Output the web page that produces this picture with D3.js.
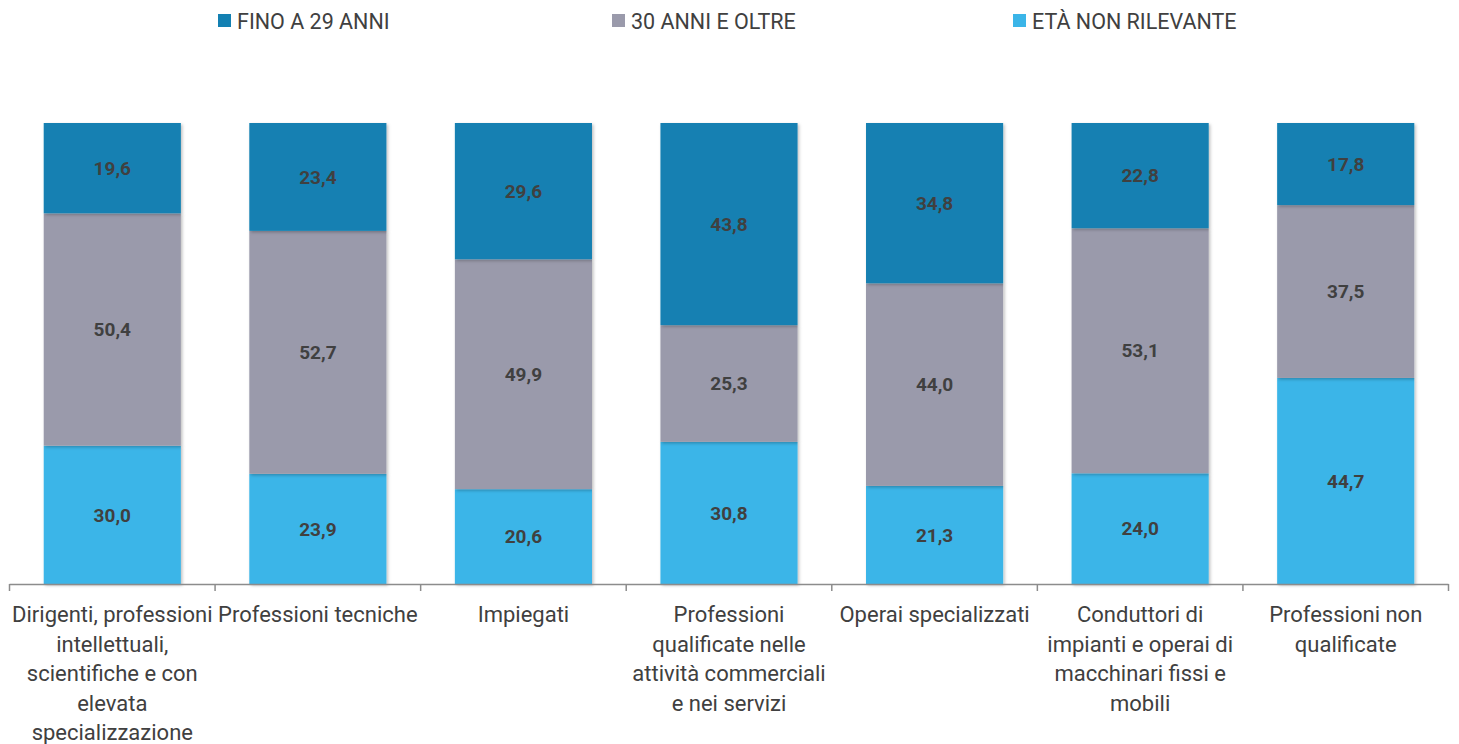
<!DOCTYPE html>
<html>
<head>
<meta charset="utf-8">
<script src="https://cdn.jsdelivr.net/npm/d3@7"></script>
<style>
  body { margin: 0; background: #fff; }
  svg { display: block; }
  text { font-family: Roboto, "Open Sans", sans-serif; fill: #404040; }
</style>
</head>
<body>
<div id="grafico"></div>
<script>
// dimensioni della pagina
var largeurSvg = 1459, hauteurSvg = 744;

// categorie (a capo come nel grafico)
var categorie = [
  "Dirigenti, professioni\nintellettuali,\nscientifiche e con\nelevata\nspecializzazione",
  "Professioni tecniche",
  "Impiegati",
  "Professioni\nqualificate nelle\nattività commerciali\ne nei servizi",
  "Operai specializzati",
  "Conduttori di\nimpianti e operai di\nmacchinari fissi e\nmobili",
  "Professioni non\nqualificate"
];

// serie
var serie = ["ETÀ NON RILEVANTE", "30 ANNI E OLTRE", "FINO A 29 ANNI"];
var fino29   = [19.6, 23.4, 29.6, 43.8, 34.8, 22.8, 17.8];
var oltre30  = [50.4, 52.7, 49.9, 25.3, 44.0, 53.1, 37.5];
var nonRilev = [30.0, 23.9, 20.6, 30.8, 21.3, 24.0, 44.7];

// ordine della legenda
var legenda = ["FINO A 29 ANNI", "30 ANNI E OLTRE", "ETÀ NON RILEVANTE"];

var colori = {
  "FINO A 29 ANNI": "#1380b2",
  "30 ANNI E OLTRE": "#9a9aab",
  "ETÀ NON RILEVANTE": "#3bb5e8"
};

// tabella per d3.stack
var donnees = categorie.map(function(c, i) {
  return {
    cat: c,
    "FINO A 29 ANNI": fino29[i],
    "30 ANNI E OLTRE": oltre30[i],
    "ETÀ NON RILEVANTE": nonRilev[i]
  };
});

var svg = d3.select("#grafico").append("svg")
  .attr("width", largeurSvg)
  .attr("height", hauteurSvg);

// leggera ombra sulle barre
var defs = svg.append("defs");
defs.append("filter").attr("id", "ombra")
  .attr("x", "-10%").attr("y", "-10%").attr("width", "120%").attr("height", "120%")
  .append("feDropShadow")
  .attr("dx", 1.5).attr("dy", 1.5).attr("stdDeviation", 1.5)
  .attr("flood-color", "#000").attr("flood-opacity", 0.25);

var x = d3.scaleBand()
  .domain(categorie)
  .range([9.5, 1448.5])
  .paddingInner(0.333)
  .paddingOuter(0.1665);

var y = d3.scaleLinear()
  .domain([0, 1])
  .range([584, 123]);

var stack = d3.stack().keys(serie).offset(d3.stackOffsetExpand);
var pile = stack(donnees);

// barre
var gruppi = svg.append("g").selectAll("g")
  .data(pile)
  .enter().append("g")
    .attr("fill", function(d) { return colori[d.key]; });

gruppi.selectAll("rect")
  .data(function(d) { return d; })
  .enter().append("rect")
    .attr("x", function(d) { return x(d.data.cat); })
    .attr("y", function(d) { return y(d[1]); })
    .attr("width", x.bandwidth())
    .attr("height", function(d) { return y(d[0]) - y(d[1]); })
    .attr("filter", "url(#ombra)");

// etichette dei valori
gruppi.each(function(serieDati) {
  d3.select(this).selectAll("text")
    .data(serieDati)
    .enter().append("text")
      .attr("x", function(d) { return x(d.data.cat) + x.bandwidth() / 2; })
      .attr("y", function(d) { return (y(d[0]) + y(d[1])) / 2; })
      .attr("dy", "0.35em")
      .attr("text-anchor", "middle")
      .style("font-size", "19px")
      .style("font-weight", "bold")
      .text(function(d) { return d3.format(".1f")(d.data[serieDati.key]).replace(".", ","); });
});

// asse x
var asse = svg.append("g");
asse.append("line")
  .attr("x1", 9.5).attr("x2", 1448.5)
  .attr("y1", 584.5).attr("y2", 584.5)
  .attr("stroke", "#8c8c8c").attr("stroke-width", 1.5);

var confini = categorie.map(function(c) { return x(c) - x.step() * x.paddingInner() / 2; });
confini.push(1448.5);
confini[0] = 9.5;
asse.selectAll(".tacca")
  .data(confini)
  .enter().append("line")
    .attr("class", "tacca")
    .attr("x1", function(d) { return d; }).attr("x2", function(d) { return d; })
    .attr("y1", 584).attr("y2", 591)
    .attr("stroke", "#8c8c8c").attr("stroke-width", 1.5);

var etichette = asse.selectAll(".cat")
  .data(categorie)
  .enter().append("text")
    .attr("class", "cat")
    .attr("text-anchor", "middle")
    .attr("transform", function(d) { return "translate(" + (x(d) + x.bandwidth() / 2) + ",622)"; })
    .style("font-size", "22px");

etichette.each(function(d) {
  var t = d3.select(this);
  d.split("\n").forEach(function(riga, i) {
    t.append("tspan").attr("x", 0).attr("y", i * 29.5).text(riga);
  });
});

// legenda
var posLegenda = [218, 612, 1013];
var voci = svg.append("g").selectAll("g")
  .data(legenda)
  .enter().append("g")
    .attr("transform", function(d, i) { return "translate(" + posLegenda[i] + ",0)"; });

voci.append("rect")
  .attr("x", 0).attr("y", 14)
  .attr("width", 13).attr("height", 13)
  .attr("fill", function(d) { return colori[d]; });

voci.append("text")
  .attr("x", 19).attr("y", 21)
  .attr("dy", "0.35em")
  .style("font-size", "21.5px")
  .text(function(d) { return d; });
</script>
</body>
</html>
